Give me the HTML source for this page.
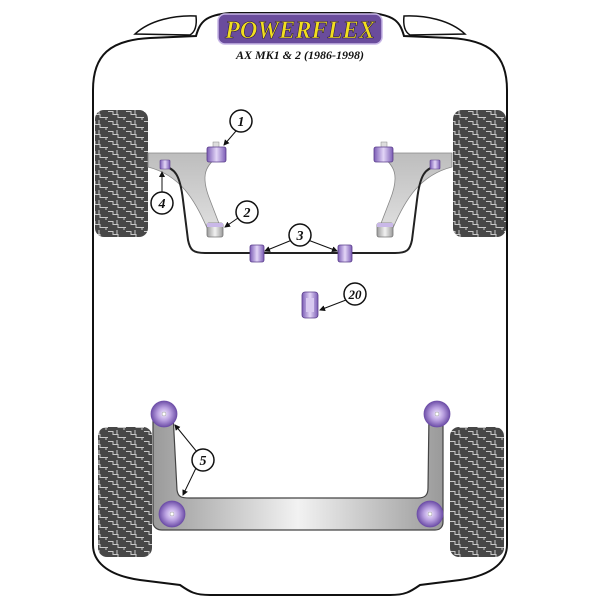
<!DOCTYPE html>
<html><head><style>html,body{margin:0;padding:0;background:#fff}svg{display:block}</style></head>
<body>
<svg width="600" height="600" viewBox="0 0 600 600" xmlns="http://www.w3.org/2000/svg">
<defs>
<pattern id="tyre" width="18" height="10" patternUnits="userSpaceOnUse">
<rect width="18" height="10" fill="#474747"/>
<path d="M0,1.5 H5 V4.5 H10 V7.5 H18 M9,0 V4.5 M16,7.5 V10" stroke="#c8c8c8" stroke-width="1" fill="none"/>
</pattern>
<linearGradient id="steel" x1="0" x2="1" y1="0" y2="0">
<stop offset="0" stop-color="#9a9a9a"/><stop offset="0.5" stop-color="#f2f2f2"/><stop offset="1" stop-color="#9a9a9a"/>
</linearGradient>
<linearGradient id="armg" x1="0" x2="0" y1="0" y2="1">
<stop offset="0" stop-color="#bdbdbd"/><stop offset="1" stop-color="#dedede"/>
</linearGradient>
<radialGradient id="pb" cx="0.5" cy="0.5" r="0.5">
<stop offset="0" stop-color="#f0e8ff"/><stop offset="0.5" stop-color="#b9a0e0"/><stop offset="1" stop-color="#6e4fa8"/>
</radialGradient>
<linearGradient id="pv" x1="0" x2="1">
<stop offset="0" stop-color="#7b5cb5"/><stop offset="0.5" stop-color="#e3d6f7"/><stop offset="1" stop-color="#7b5cb5"/>
</linearGradient>
<marker id="ah" markerWidth="6" markerHeight="6" refX="5" refY="3" orient="auto" markerUnits="userSpaceOnUse">
<path d="M0,0 L6,3 L0,6 Z" fill="#111"/>
</marker>
</defs>

<path d="M93,90 C93,55 110,40 150,38 L196,36 C200,22 205,15 230,13 L370,13 C395,15 400,22 404,36 L450,38 C490,40 507,55 507,90 L507,545 C507,560 495,575 460,580 L420,585 C410,592 405,595 390,595 L210,595 C195,595 190,592 180,585 L140,580 C105,575 93,560 93,545 Z" fill="#fff" stroke="#111" stroke-width="2"/>
<path d="M135,34 C150,20 175,15 196,16 C197,25 195,32 190,35 Z" fill="#fff" stroke="#111" stroke-width="1.5"/>
<path d="M465,34 C450,20 425,15 404,16 C403,25 405,32 410,35 Z" fill="#fff" stroke="#111" stroke-width="1.5"/>

<rect x="95" y="110" width="53" height="127" rx="9" fill="url(#tyre)"/>
<rect x="453" y="110" width="53" height="127" rx="9" fill="url(#tyre)"/>
<rect x="98" y="427" width="54" height="130" rx="9" fill="url(#tyre)"/>
<rect x="450" y="427" width="54" height="130" rx="9" fill="url(#tyre)"/>

<path d="M148,153 L222,153 C205,165 200,175 210,200 L220,226 L207,228 C195,200 180,175 148,167 Z" fill="url(#armg)" stroke="#888" stroke-width="0.8"/>
<path d="M452,153 L378,153 C395,165 400,175 390,200 L380,226 L393,228 C405,200 420,175 452,167 Z" fill="url(#armg)" stroke="#888" stroke-width="0.8"/>

<path d="M163,166 C175,168 180,175 183,200 L188,240 C190,250 193,253 205,253 L395,253 C407,253 410,250 412,240 L417,200 C420,175 425,168 437,166" fill="none" stroke="#222" stroke-width="2"/>

<rect x="213" y="142" width="6" height="6" fill="#ddd" stroke="#888" stroke-width="0.5"/>
<rect x="207" y="147" width="19" height="15" rx="2" fill="url(#pv)" stroke="#5a3d8a" stroke-width="0.8"/>
<rect x="381" y="142" width="6" height="6" fill="#ddd" stroke="#888" stroke-width="0.5"/>
<rect x="374" y="147" width="19" height="15" rx="2" fill="url(#pv)" stroke="#5a3d8a" stroke-width="0.8"/>
<rect x="207" y="223" width="16" height="14" rx="2" fill="url(#steel)" stroke="#777" stroke-width="0.8"/>
<rect x="207" y="223" width="16" height="4" fill="#c9b8e8"/>
<rect x="377" y="223" width="16" height="14" rx="2" fill="url(#steel)" stroke="#777" stroke-width="0.8"/>
<rect x="377" y="223" width="16" height="4" fill="#c9b8e8"/>
<rect x="160" y="160" width="10" height="9" rx="1" fill="url(#pv)" stroke="#5a3d8a" stroke-width="0.6"/>
<rect x="430" y="160" width="10" height="9" rx="1" fill="url(#pv)" stroke="#5a3d8a" stroke-width="0.6"/>
<rect x="250" y="245" width="14" height="17" rx="2" fill="url(#pv)" stroke="#5a3d8a" stroke-width="0.8"/>
<rect x="338" y="245" width="14" height="17" rx="2" fill="url(#pv)" stroke="#5a3d8a" stroke-width="0.8"/>
<rect x="302" y="292" width="16" height="26" rx="3" fill="url(#pv)" stroke="#5a3d8a" stroke-width="0.8"/>
<rect x="306" y="298" width="8" height="14" fill="#d8c9f0"/>

<path d="M153,414 L173,414 L177,490 C178,497 181,498 190,498 L418,498 C425,498 428,495 428,488 L429,414 L443,414 L443,522 C443,527 440,530 435,530 L162,530 C157,530 153,527 153,522 Z" fill="url(#steel)" stroke="#444" stroke-width="1.2"/>
<g stroke="#6e4fa8" stroke-width="0.8">
<circle cx="164" cy="414" r="13" fill="url(#pb)"/><circle cx="437" cy="414" r="13" fill="url(#pb)"/>
<circle cx="172" cy="514" r="13" fill="url(#pb)"/><circle cx="430" cy="514" r="13" fill="url(#pb)"/>
</g>
<g fill="#fff" stroke="#999" stroke-width="0.5">
<circle cx="164" cy="414" r="2"/><circle cx="437" cy="414" r="2"/><circle cx="172" cy="514" r="2"/><circle cx="430" cy="514" r="2"/>
</g>

<g stroke="#111" stroke-width="1" fill="none" marker-end="url(#ah)">
<line x1="236" y1="131" x2="224" y2="145"/>
<line x1="238" y1="218" x2="225" y2="227"/>
<line x1="292" y1="240" x2="265" y2="251"/>
<line x1="308" y1="240" x2="337" y2="251"/>
<line x1="162" y1="192" x2="162" y2="172"/>
<line x1="346" y1="300" x2="320" y2="310"/>
<line x1="197" y1="452" x2="175" y2="425"/>
<line x1="196" y1="468" x2="183" y2="495"/>
</g>
<g fill="#fff" stroke="#111" stroke-width="1.5">
<circle cx="241" cy="121" r="11"/><circle cx="247" cy="212" r="11"/><circle cx="300" cy="235" r="11"/>
<circle cx="162" cy="203" r="11"/><circle cx="355" cy="294" r="11"/><circle cx="203" cy="460" r="11"/>
</g>
<g font-family="Liberation Serif, serif" font-weight="bold" font-style="italic" font-size="14" text-anchor="middle" fill="#111">
<text x="241" y="126">1</text><text x="247" y="217">2</text><text x="300" y="240">3</text>
<text x="162" y="208">4</text><text x="355" y="299" font-size="13">20</text><text x="203" y="465">5</text>
</g>

<rect x="218" y="14" width="164" height="30" rx="7" fill="#6a4c9c" stroke="#c7b6e6" stroke-width="1.5"/>
<text x="300" y="38" text-anchor="middle" font-family="Liberation Serif, serif" font-weight="bold" font-style="italic" font-size="25" fill="#f2df1f" stroke="#2a1a40" stroke-width="0.6" textLength="150" lengthAdjust="spacingAndGlyphs">POWERFLEX</text>
<text x="300" y="59" text-anchor="middle" font-family="Liberation Serif, serif" font-weight="bold" font-style="italic" font-size="12" fill="#111">AX MK1 &amp; 2 (1986-1998)</text>
</svg>
</body></html>
